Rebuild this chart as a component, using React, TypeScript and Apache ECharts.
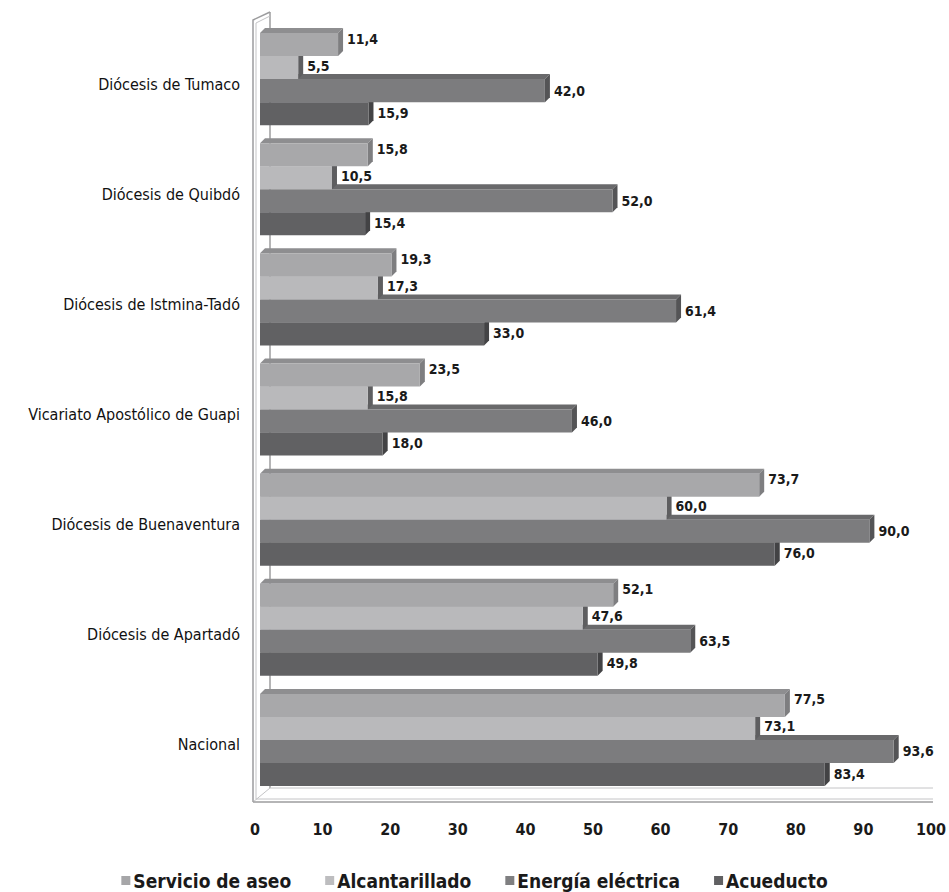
import React, { useEffect, useRef } from "react";
import * as echarts from "echarts";

const categories = [
  "Diócesis de Tumaco",
  "Diócesis de Quibdó",
  "Diócesis de Istmina-Tadó",
  "Vicariato Apostólico de Guapi",
  "Diócesis de Buenaventura",
  "Diócesis de Apartadó",
  "Nacional",
];
const seriesNames = ["Servicio de aseo", "Alcantarillado", "Energía eléctrica", "Acueducto"];
const aseo = [11.4, 15.8, 19.3, 23.5, 73.7, 52.1, 77.5];
const alcantarillado = [5.5, 10.5, 17.3, 15.8, 60.0, 47.6, 73.1];
const energia = [42.0, 52.0, 61.4, 46.0, 90.0, 63.5, 93.6];
const acueducto = [15.9, 15.4, 33.0, 18.0, 76.0, 49.8, 83.4];
const seriesValues = [aseo, alcantarillado, energia, acueducto];

const FONT = '"Liberation Sans Narrow", "Arial Narrow", "DejaVu Sans Condensed", "Liberation Sans", sans-serif';

const styles = [
  { legend: "#a6a6a8", front: "#a8a8aa", top: "#8e8e90", side: "#7e7e80", dy: -6 },
  { legend: "#bdbdbf", front: "#b9b9bb", top: "#a3a3a5", side: "#5e5e60", dy: -2 },
  { legend: "#7f7f81", front: "#7c7c7e", top: "#69696b", side: "#545456", dy: 0 },
  { legend: "#606062", front: "#616163", top: "#555557", side: "#434345", dy: -1 },
];

const fmt = (v: number) => v.toFixed(1).replace(".", ",");

function makeBarRender(slot: number) {
  const s = styles[slot];
  return (params: any, api: any) => {
    const val = api.value(0);
    const ci = api.value(1);
    const c = api.coord([0, ci]);
    const e = api.coord([val, ci]);
    const band = api.size([0, 1])[1];
    const h = band * 0.209;
    const x0 = c[0] - 1;
    const x1 = e[0];
    const y0 = c[1] - band * 0.463 + h * slot;
    const y1 = y0 + h;
    const d = 5;
    return {
      type: "group",
      children: [
        {
          type: "polygon",
          shape: { points: [[x0, y0], [x0 + d, y0 - d], [x1 + d, y0 - d], [x1, y0]] },
          style: { fill: s.top },
        },
        {
          type: "polygon",
          shape: { points: [[x1, y0], [x1 + d, y0 - d], [x1 + d, y1 - d], [x1, y1]] },
          style: { fill: s.side },
        },
        {
          type: "rect",
          shape: { x: x0, y: y0, width: x1 - x0, height: h },
          style: { fill: s.front },
        },
        {
          type: "text",
          style: {
            text: fmt(val),
            x: x1 + d + 4,
            y: (y0 + y1) / 2 + s.dy,
            fill: "#1a1a1a",
            font: `bold 14px ${FONT}`,
            align: "left",
            verticalAlign: "middle",
          },
        },
      ],
    };
  };
}

function frameRender(params: any) {
  const cs = params.coordSys;
  const L = cs.x;
  const T = cs.y;
  const B = cs.y + cs.height;
  const R = cs.x + cs.width;
  const line = { stroke: "#9c9c9e", lineWidth: 1.5, fill: null };
  const light = { stroke: "#c4c4c6", lineWidth: 1, fill: null };
  return {
    type: "group",
    children: [
      { type: "polyline", shape: { points: [[L + 9, B - 12], [L + 9, T - 17]] }, style: line },
      { type: "polyline", shape: { points: [[L - 8, B + 2], [L - 8, T - 9], [L + 9, T - 17]] }, style: line },
      { type: "polyline", shape: { points: [[L - 5, B - 1], [L - 5, T - 6], [L + 9, T - 13]] }, style: light },
      { type: "polyline", shape: { points: [[L - 8, B + 2], [L + 9, B - 12], [R - 4, B - 12]] }, style: light },
      { type: "polyline", shape: { points: [[L - 8, B + 2], [R - 4, B + 2]] }, style: line },
      { type: "polyline", shape: { points: [[L - 5, B - 1], [R - 4, B - 1]] }, style: light },
    ],
  };
}

export default function App() {
  const ref = useRef<HTMLDivElement>(null);
  useEffect(() => {
    document.body.style.margin = "0";
    const chart = echarts.init(ref.current!, null, { renderer: "svg" });
    const series: any[] = [
      {
        type: "custom",
        name: "frame",
        renderItem: frameRender,
        data: [[0, 0]],
        encode: { x: 0, y: 1 },
        z: 1,
        silent: true,
      },
    ];
    seriesNames.forEach((name, i) => {
      series.push({
        type: "custom",
        name,
        renderItem: makeBarRender(i),
        itemStyle: { color: styles[i].legend },
        data: seriesValues[i].map((v, ci) => [v, ci]),
        encode: { x: 0, y: 1 },
        z: 10 - i,
      });
    });
    chart.setOption({
      animation: false,
      backgroundColor: "#ffffff",
      grid: { left: 261, right: 10, top: 29, bottom: 92, containLabel: false },
      xAxis: {
        type: "value",
        min: 0,
        max: 100,
        interval: 10,
        splitLine: { show: false },
        axisLine: { show: false },
        axisTick: { show: false },
        axisLabel: {
          color: "#1a1a1a",
          fontFamily: FONT,
          fontWeight: "bold",
          fontSize: 16,
          margin: 21,
          padding: [0, 12, 0, 0],
        },
      },
      yAxis: {
        type: "category",
        inverse: true,
        data: categories,
        axisLine: { show: false },
        axisTick: { show: false },
        axisLabel: {
          color: "#111111",
          fontFamily: FONT,
          fontSize: 16,
          margin: 21,
        },
      },
      legend: {
        data: seriesNames.map((n) => ({ name: n, icon: "rect" })),
        top: 866,
        left: "center",
        itemWidth: 9,
        itemHeight: 9,
        itemGap: 34,
        textStyle: { color: "#1a1a1a", fontFamily: FONT, fontWeight: "bold", fontSize: 19, padding: [0, 0, 0, -2] },
      },
      series,
    });
    return () => chart.dispose();
  }, []);
  return <div ref={ref} style={{ width: 949, height: 892 }} />;
}
